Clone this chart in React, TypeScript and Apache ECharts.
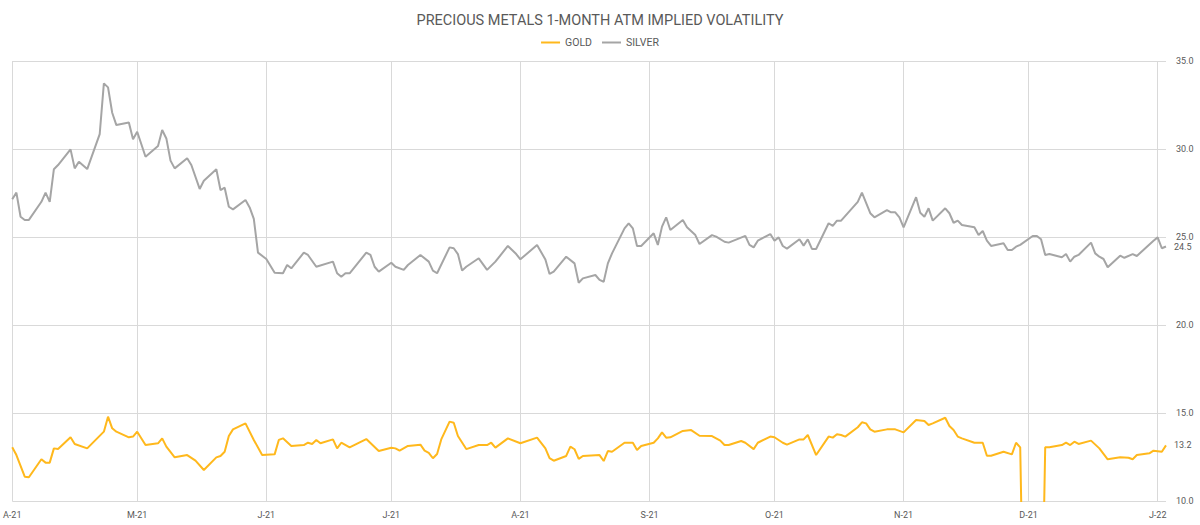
import React, { useEffect, useRef } from 'react';
import * as echarts from 'echarts';

const chartTitle = 'PRECIOUS METALS 1-MONTH ATM IMPLIED VOLATILITY';
const axisStart = '2021-04-01';
const axisEnd = '2022-01-03';
const monthLetters = ['J', 'F', 'M', 'A', 'M', 'J', 'J', 'A', 'S', 'O', 'N', 'D'];
const yMin = 10;
const yMax = 35;
const yStep = 5;

const silverDates = [
  '2021-04-01', '2021-04-02', '2021-04-03', '2021-04-04', '2021-04-05', '2021-04-08', '2021-04-09', '2021-04-10',
  '2021-04-11', '2021-04-12', '2021-04-15', '2021-04-16', '2021-04-17', '2021-04-19', '2021-04-22', '2021-04-23',
  '2021-04-24', '2021-04-25', '2021-04-26', '2021-04-29', '2021-04-30', '2021-05-01', '2021-05-03', '2021-05-06',
  '2021-05-07', '2021-05-08', '2021-05-09', '2021-05-10', '2021-05-13', '2021-05-14', '2021-05-16', '2021-05-17',
  '2021-05-20', '2021-05-21', '2021-05-22', '2021-05-23', '2021-05-24', '2021-05-27', '2021-05-28', '2021-05-29',
  '2021-05-30', '2021-06-01', '2021-06-03', '2021-06-05', '2021-06-06', '2021-06-07', '2021-06-10', '2021-06-11',
  '2021-06-13', '2021-06-17', '2021-06-18', '2021-06-19', '2021-06-20', '2021-06-21', '2021-06-25', '2021-06-26',
  '2021-06-27', '2021-06-28', '2021-07-01', '2021-07-02', '2021-07-04', '2021-07-05', '2021-07-08', '2021-07-10',
  '2021-07-11', '2021-07-12', '2021-07-15', '2021-07-16', '2021-07-17', '2021-07-18', '2021-07-19', '2021-07-22',
  '2021-07-24', '2021-07-26', '2021-07-29', '2021-07-31', '2021-08-01', '2021-08-05', '2021-08-07', '2021-08-08',
  '2021-08-09', '2021-08-12', '2021-08-14', '2021-08-15', '2021-08-16', '2021-08-19', '2021-08-20', '2021-08-21',
  '2021-08-22', '2021-08-23', '2021-08-26', '2021-08-27', '2021-08-28', '2021-08-29', '2021-08-30', '2021-09-02',
  '2021-09-03', '2021-09-04', '2021-09-05', '2021-09-06', '2021-09-09', '2021-09-10', '2021-09-12', '2021-09-13',
  '2021-09-16', '2021-09-17', '2021-09-19', '2021-09-20', '2021-09-24', '2021-09-25', '2021-09-26', '2021-09-27',
  '2021-09-30', '2021-10-01', '2021-10-02', '2021-10-03', '2021-10-04', '2021-10-07', '2021-10-08', '2021-10-09',
  '2021-10-10', '2021-10-11', '2021-10-14', '2021-10-15', '2021-10-16', '2021-10-17', '2021-10-21', '2021-10-22',
  '2021-10-24', '2021-10-25', '2021-10-28', '2021-10-29', '2021-10-30', '2021-10-31', '2021-11-01', '2021-11-04',
  '2021-11-05', '2021-11-06', '2021-11-07', '2021-11-08', '2021-11-11', '2021-11-12', '2021-11-13', '2021-11-14',
  '2021-11-15', '2021-11-18', '2021-11-19', '2021-11-20', '2021-11-21', '2021-11-22', '2021-11-25', '2021-11-26',
  '2021-11-27', '2021-11-28', '2021-11-29', '2021-12-02', '2021-12-03', '2021-12-04', '2021-12-05', '2021-12-06',
  '2021-12-09', '2021-12-10', '2021-12-11', '2021-12-12', '2021-12-13', '2021-12-16', '2021-12-17', '2021-12-18',
  '2021-12-19', '2021-12-20', '2021-12-23', '2021-12-24', '2021-12-26', '2021-12-27', '2021-12-31', '2022-01-01',
  '2022-01-02', '2022-01-03',
];
const silverValues = [
  27.14, 27.52, 26.15, 25.97, 25.97, 27.0, 27.52, 27.0,
  28.85, 29.09, 29.98, 28.9, 29.28, 28.86, 30.85, 33.73,
  33.5, 32.06, 31.36, 31.5, 30.55, 30.98, 29.56, 30.17,
  31.08, 30.6, 29.34, 28.9, 29.47, 29.09, 27.73, 28.2,
  28.85, 27.67, 27.8, 26.72, 26.57, 27.1, 26.68, 26.03,
  24.11, 23.75, 22.97, 22.94, 23.41, 23.22, 24.11, 23.98,
  23.31, 23.6, 22.94, 22.74, 22.94, 22.94, 24.11, 23.98,
  23.31, 23.03, 23.54, 23.31, 23.13, 23.41, 23.98, 23.6,
  23.09, 22.94, 24.41, 24.36, 24.03, 23.09, 23.31, 23.79,
  23.13, 23.6, 24.49, 24.03, 23.73, 24.55, 23.72, 22.9,
  23.03, 23.88, 23.5, 22.4, 22.65, 22.84, 22.56, 22.46,
  23.5, 24.07, 25.49, 25.78, 25.49, 24.49, 24.49, 25.21,
  24.55, 25.59, 26.12, 25.4, 25.97, 25.55, 25.11, 24.6,
  25.11, 25.02, 24.73, 24.68, 25.06, 24.55, 24.41, 24.79,
  25.17, 24.79, 24.98, 24.49, 24.34, 24.87, 24.51, 24.87,
  24.32, 24.32, 25.78, 25.63, 25.93, 25.93, 27.0, 27.52,
  26.35, 26.12, 26.53, 26.4, 26.4, 26.12, 25.55, 27.26,
  26.38, 26.15, 26.63, 25.93, 26.63, 26.35, 25.81, 25.93,
  25.68, 25.55, 25.11, 25.34, 24.79, 24.49, 24.64, 24.26,
  24.26, 24.45, 24.55, 25.06, 25.06, 24.87, 23.98, 24.03,
  23.85, 24.03, 23.6, 23.88, 23.98, 24.68, 24.07, 23.88,
  23.75, 23.28, 23.94, 23.82, 24.03, 23.92, 24.79, 24.98,
  24.36, 24.46,
];

const goldDates = [
  '2021-04-01', '2021-04-02', '2021-04-04', '2021-04-05', '2021-04-08', '2021-04-09', '2021-04-10', '2021-04-11',
  '2021-04-12', '2021-04-15', '2021-04-16', '2021-04-19', '2021-04-23', '2021-04-24', '2021-04-25', '2021-04-26',
  '2021-04-29', '2021-04-30', '2021-05-01', '2021-05-03', '2021-05-06', '2021-05-07', '2021-05-08', '2021-05-10',
  '2021-05-13', '2021-05-15', '2021-05-17', '2021-05-20', '2021-05-21', '2021-05-22', '2021-05-23', '2021-05-24',
  '2021-05-27', '2021-05-29', '2021-05-31', '2021-06-03', '2021-06-04', '2021-06-05', '2021-06-07', '2021-06-10',
  '2021-06-11', '2021-06-12', '2021-06-13', '2021-06-14', '2021-06-17', '2021-06-18', '2021-06-19', '2021-06-21',
  '2021-06-25', '2021-06-28', '2021-07-01', '2021-07-02', '2021-07-03', '2021-07-05', '2021-07-08', '2021-07-09',
  '2021-07-10', '2021-07-11', '2021-07-12', '2021-07-13', '2021-07-15', '2021-07-16', '2021-07-17', '2021-07-19',
  '2021-07-22', '2021-07-24', '2021-07-25', '2021-07-26', '2021-07-29', '2021-08-01', '2021-08-05', '2021-08-07',
  '2021-08-08', '2021-08-09', '2021-08-12', '2021-08-13', '2021-08-14', '2021-08-15', '2021-08-16', '2021-08-20',
  '2021-08-21', '2021-08-22', '2021-08-23', '2021-08-26', '2021-08-28', '2021-08-29', '2021-08-30', '2021-09-02',
  '2021-09-03', '2021-09-04', '2021-09-05', '2021-09-06', '2021-09-09', '2021-09-11', '2021-09-13', '2021-09-16',
  '2021-09-18', '2021-09-19', '2021-09-20', '2021-09-23', '2021-09-24', '2021-09-26', '2021-09-27', '2021-09-30',
  '2021-10-01', '2021-10-03', '2021-10-04', '2021-10-07', '2021-10-08', '2021-10-09', '2021-10-11', '2021-10-14',
  '2021-10-15', '2021-10-16', '2021-10-17', '2021-10-18', '2021-10-21', '2021-10-22', '2021-10-23', '2021-10-24',
  '2021-10-25', '2021-10-28', '2021-10-30', '2021-11-01', '2021-11-04', '2021-11-06', '2021-11-07', '2021-11-08',
  '2021-11-11', '2021-11-12', '2021-11-13', '2021-11-14', '2021-11-15', '2021-11-18', '2021-11-20', '2021-11-21',
  '2021-11-22', '2021-11-25', '2021-11-27', '2021-11-28', '2021-11-29', '2021-11-30', '2021-12-04', '2021-12-05',
  '2021-12-06', '2021-12-09', '2021-12-10', '2021-12-11', '2021-12-12', '2021-12-13', '2021-12-16', '2021-12-18',
  '2021-12-20', '2021-12-23', '2021-12-25', '2021-12-26', '2021-12-27', '2021-12-30', '2021-12-31', '2022-01-02',
  '2022-01-03',
];
const goldValues = [
  13.05, 12.61, 11.38, 11.35, 12.37, 12.18, 12.18, 12.99,
  12.95, 13.62, 13.24, 12.99, 13.94, 14.79, 14.13, 13.94,
  13.62, 13.66, 13.94, 13.18, 13.28, 13.56, 13.09, 12.48,
  12.61, 12.29, 11.76, 12.48, 12.56, 12.8, 13.69, 14.07,
  14.41, 13.47, 12.61, 12.65, 13.47, 13.56, 13.13, 13.18,
  13.31, 13.24, 13.47, 13.28, 13.5, 12.99, 13.31, 13.05,
  13.52, 12.84, 13.03, 12.99, 12.86, 13.13, 13.2, 12.86,
  12.74, 12.43, 12.67, 13.5, 14.51, 14.45, 13.69, 12.95,
  13.18, 13.18, 13.31, 13.03, 13.56, 13.28, 13.6, 12.99,
  12.43, 12.29, 12.56, 13.09, 12.94, 12.39, 12.56, 12.61,
  12.27, 12.84, 12.8, 13.31, 13.31, 12.9, 13.13, 13.31,
  13.56, 13.9, 13.6, 13.62, 13.98, 14.03, 13.71, 13.69,
  13.43, 13.18, 13.18, 13.41, 13.31, 12.95, 13.31, 13.66,
  13.62, 13.31, 13.2, 13.5, 13.5, 13.75, 12.61, 13.66,
  13.6, 13.79, 13.75, 13.66, 14.19, 14.47, 14.41, 14.07,
  13.94, 14.07, 14.07, 13.9, 14.6, 14.55, 14.32, 14.41,
  14.73, 14.26, 14.03, 13.66, 13.56, 13.31, 13.31, 12.57,
  12.57, 12.8, 12.65, 13.31, 13.05, 0, 0, 13.05,
  13.05, 13.18, 13.31, 13.18, 13.37, 13.24, 13.43, 12.99,
  12.37, 12.48, 12.46, 12.37, 12.61, 12.71, 12.86, 12.8,
  13.16,
];

const FONT = 'Roboto, "Noto Sans", sans-serif';
const TEXT = '#595959';
const GRID = '#D9D9D9';
const GOLD_COLOR = '#FFB81C';
const SILVER_COLOR = '#A5A5A5';

function buildDays(start: string, end: string): string[] {
  const out: string[] = [];
  const d = new Date(start + 'T00:00:00Z');
  const e = new Date(end + 'T00:00:00Z');
  while (d.getTime() <= e.getTime()) {
    out.push(d.toISOString().slice(0, 10));
    d.setUTCDate(d.getUTCDate() + 1);
  }
  return out;
}

function alignTo(days: string[], dates: string[], values: number[]) {
  const m = new Map<string, number>();
  dates.forEach((d, i) => m.set(d, values[i]));
  return days.map((d) => (m.has(d) ? (m.get(d) as number) : null));
}

const isMonthStart = (_i: number, v: string) => v.slice(8, 10) === '01';

export default function App() {
  const ref = useRef<HTMLDivElement>(null);
  useEffect(() => {
    if (!ref.current) return;
    const chart = echarts.init(ref.current, undefined, { renderer: 'svg' });
    const days = buildDays(axisStart, axisEnd);
    const endLabel = {
      show: true,
      distance: 8,
      color: TEXT,
      fontSize: 9,
      fontFamily: FONT,
      formatter: (p: any) => Number(p.value).toFixed(1),
    };
    chart.setOption({
      animation: false,
      backgroundColor: '#FFFFFF',
      textStyle: { fontFamily: FONT },
      title: {
        text: chartTitle,
        left: 'center',
        top: 8,
        textStyle: { color: TEXT, fontSize: 14.5, fontWeight: 'normal', fontFamily: FONT },
      },
      legend: {
        top: 32,
        left: 'center',
        icon: 'rect',
        itemWidth: 19,
        itemHeight: 2,
        itemGap: 10,
        textStyle: { color: TEXT, fontSize: 10.5, fontFamily: FONT },
        data: ['GOLD', 'SILVER'],
      },
      grid: { left: 10, right: 34, top: 61, bottom: 24, containLabel: false },
      xAxis: {
        type: 'category',
        data: days,
        boundaryGap: false,
        axisLine: { show: false },
        axisTick: { show: false },
        axisLabel: {
          interval: isMonthStart,
          color: TEXT,
          fontSize: 9,
          fontFamily: FONT,
          margin: 9,
          formatter: (v: string) => monthLetters[Number(v.slice(5, 7)) - 1] + '-' + v.slice(2, 4),
        },
        splitLine: { show: true, interval: isMonthStart, lineStyle: { color: GRID, width: 1 } },
      },
      yAxis: {
        type: 'value',
        position: 'right',
        min: yMin,
        max: yMax,
        interval: yStep,
        axisLine: { show: false },
        axisTick: { show: false },
        axisLabel: {
          color: TEXT,
          fontSize: 9,
          fontFamily: FONT,
          margin: 10,
          formatter: (v: number) => v.toFixed(1),
        },
        splitLine: { show: true, lineStyle: { color: GRID, width: 1 } },
      },
      series: [
        {
          name: 'GOLD',
          type: 'line',
          data: alignTo(days, goldDates, goldValues),
          connectNulls: true,
          showSymbol: false,
          symbol: 'none',
          clip: true,
          lineStyle: { color: GOLD_COLOR, width: 2 },
          itemStyle: { color: GOLD_COLOR },
          endLabel,
          z: 3,
        },
        {
          name: 'SILVER',
          type: 'line',
          data: alignTo(days, silverDates, silverValues),
          connectNulls: true,
          showSymbol: false,
          symbol: 'none',
          clip: true,
          lineStyle: { color: SILVER_COLOR, width: 2 },
          itemStyle: { color: SILVER_COLOR },
          endLabel,
          z: 2,
        },
      ],
    });
    return () => chart.dispose();
  }, []);
  return (
    <div
      ref={ref}
      style={{ position: 'fixed', left: 0, top: 0, width: 1200, height: 525, background: '#fff' }}
    />
  );
}
